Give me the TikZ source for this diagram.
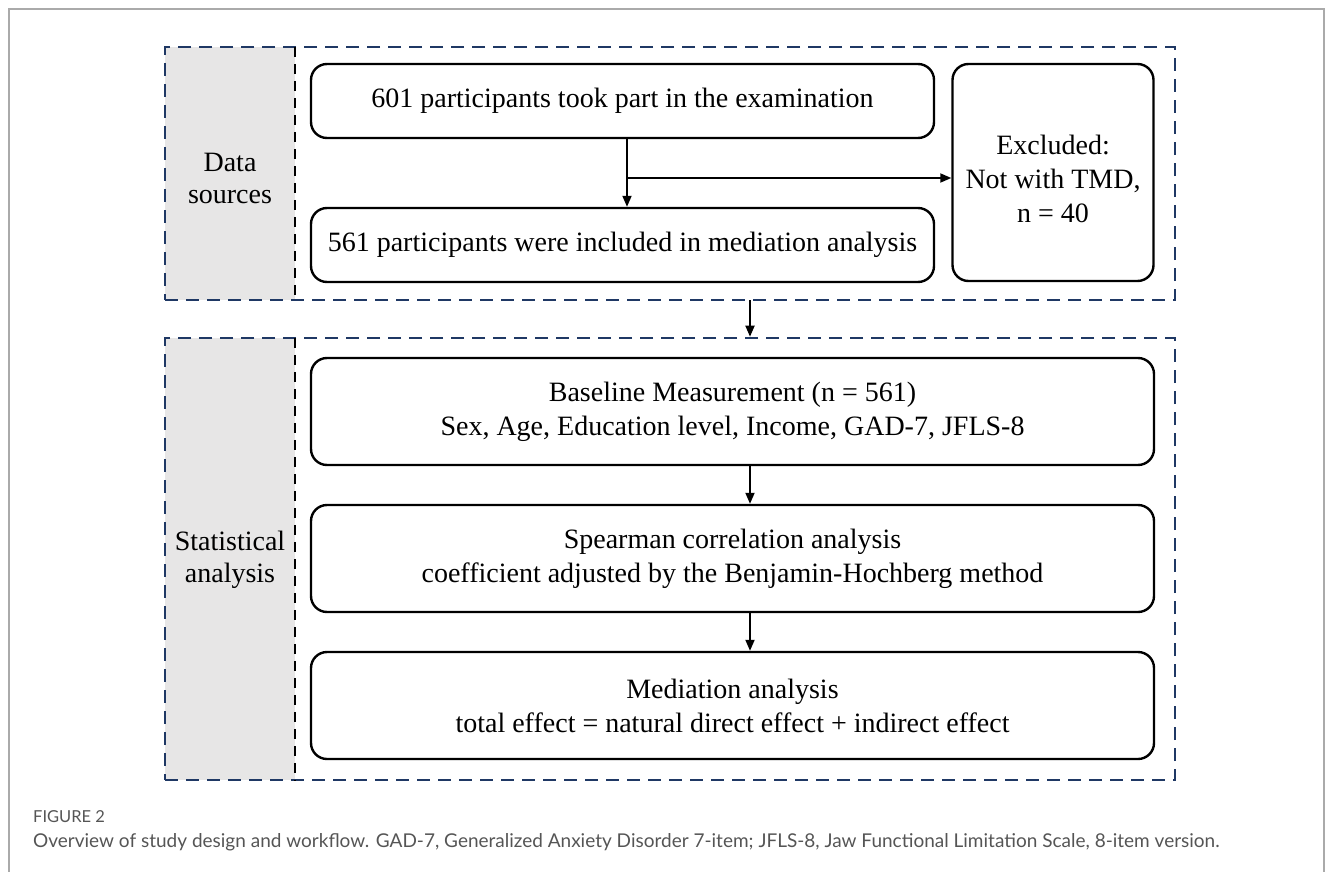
\documentclass[tikz,border=0pt]{standalone}
\usepackage{fontspec}
\setmainfont{Liberation Serif}
\newfontfamily\capfont{Lato}
\usetikzlibrary{arrows.meta}
\definecolor{navy}{HTML}{1F3864}
\definecolor{sidegray}{HTML}{E7E6E6}
\definecolor{capgray}{HTML}{555555}
\definecolor{framegray}{HTML}{AAAAAA}
\begin{document}
\begin{tikzpicture}[x=1pt,y=-1pt,
  panel/.style={draw=navy,line width=2.6pt,dash pattern=on 13pt off 8pt,rectangle,inner sep=0pt},
  side/.style={fill=sidegray,rectangle,inner sep=0pt,draw=none},
  sideline/.style={draw=black,line width=2.2pt,dash pattern=on 10pt off 7pt},
  stepbox/.style={draw=black,line width=2.4pt,rounded corners=16pt,rectangle,inner sep=0pt,align=center,font=\fontsize{28}{34}\selectfont},
  boxtext/.style={align=center,inner sep=0pt,font=\fontsize{28}{34}\selectfont},
  sidelabel/.style={align=center,font=\fontsize{28}{32}\selectfont,inner sep=0pt},
  arr/.style={line width=1.8pt,-{Triangle[length=11pt,width=9pt]}},
  captxt/.style={anchor=base west,inner sep=0pt,text=capgray,font=\capfont\fontsize{19}{22}\selectfont}
]
\useasboundingbox (0,0) rectangle (1333,872);
% outer frame
\draw[framegray,line width=1.2pt] (9,872) -- (9,9) -- (1324,9) -- (1324,872);
% side fills
\node[side,minimum width=130pt,minimum height=253pt] (s1) at (230,173.5) {};
\node[side,minimum width=130pt,minimum height=442pt] (s2) at (230,559) {};
% panels
\node[panel,minimum width=1010pt,minimum height=253pt] (p1) at (670,173.5) {};
\node[panel,minimum width=1010pt,minimum height=442pt] (p2) at (670,559) {};
\draw[sideline] (s1.north east) -- (s1.south east);
\draw[sideline] (s2.north east) -- (s2.south east);
% side labels
\node[sidelabel] (l1) at (230,178) {Data\\sources};
\node[sidelabel] (l2) at (230,560) {Statistical\\analysis};
% boxes
\node[stepbox,minimum width=623pt,minimum height=74pt] (b1) at (622.5,101) {601 participants took part in the examination};
\node[stepbox,minimum width=623pt,minimum height=74pt] (b2) at (622.5,245) {561 participants were included in mediation analysis};
\node[stepbox,minimum width=201pt,minimum height=217pt] (ex) at (1053,172.5) {};
\node[boxtext] (ext) at (1053,179) {Excluded:\\Not with TMD,\\n = 40};
\node[stepbox,minimum width=843pt,minimum height=107pt] (b3) at (732.5,411.5) {Baseline Measurement (n = 561)\\Sex, Age, Education level, Income, GAD-7, JFLS-8};
\node[stepbox,minimum width=843pt,minimum height=107pt] (b4) at (732.5,558.5) {Spearman correlation analysis\\coefficient adjusted by the Benjamin-Hochberg method};
\node[stepbox,minimum width=843pt,minimum height=107pt] (b5) at (732.5,705.5) {Mediation analysis\\total effect = natural direct effect + indirect effect};
% connectors
\coordinate (t1) at (627,138);
\coordinate (j) at (627,178);
\draw[arr] (t1) -- (t1 |- b2.north);
\draw[arr] (j) -- (j -| ex.west);
\coordinate (m) at (750,300);
\draw[arr] (m) -- (m |- p2.north);
\draw[arr] (b3.south -| m) -- (b4.north -| m);
\draw[arr] (b4.south -| m) -- (b5.north -| m);
% caption
\node[captxt,font=\capfont\fontsize{16.5}{20}\selectfont] (c1) at (33,822) {FIGURE 2};
\node[captxt] (c2) at (33,847) {Overview of study design and workflow. GAD-7, Generalized Anxiety Disorder 7-item; JFLS-8, Jaw Functional Limitation Scale, 8-item version.};
\end{tikzpicture}
\end{document}
